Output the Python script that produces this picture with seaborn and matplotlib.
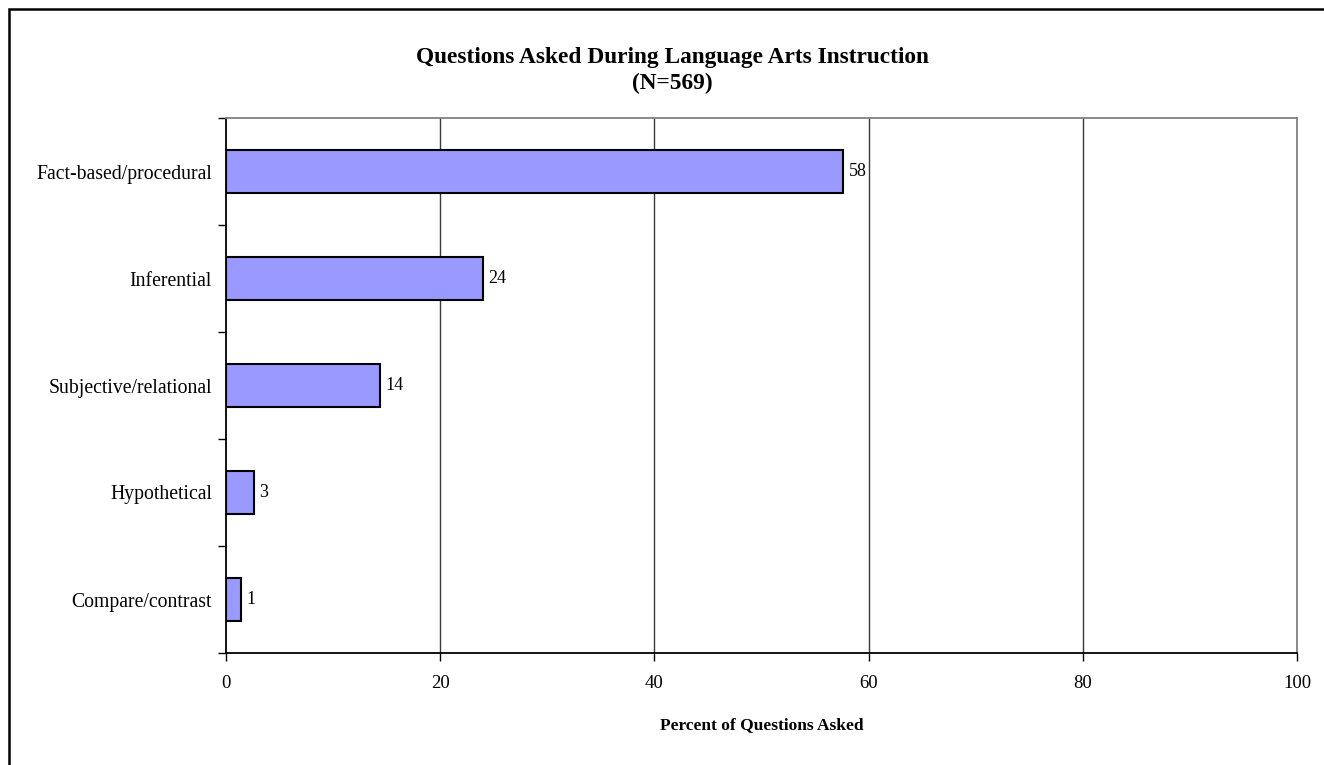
import matplotlib
matplotlib.use("Agg")
import matplotlib.pyplot as plt
from matplotlib.patches import Rectangle
import numpy as np
import pandas as pd
import seaborn as sns

# Question types and the share of questions asked (percent)
categories = ["Fact-based/procedural", "Inferential", "Subjective/relational",
              "Hypothetical", "Compare/contrast"]
percents = [57.6, 24.0, 14.4, 2.6, 1.4]
x_ticks = [0, 20, 40, 60, 80, 100]

title_text = "Questions Asked During Language Arts Instruction\n(N=569)"
x_label = "Percent of Questions Asked"

sns.set_style("white")
plt.rcParams["font.family"] = ["Liberation Serif", "DejaVu Serif"]
plt.rcParams["text.color"] = "black"
plt.rcParams["axes.labelcolor"] = "black"
plt.rcParams["xtick.color"] = "black"
plt.rcParams["ytick.color"] = "black"

df = pd.DataFrame({"category": categories, "percent": percents})

fig = plt.figure(figsize=(13.24, 7.65), dpi=100)
ax = fig.add_axes([226 / 1324, 1 - 653 / 765, (1297 - 226) / 1324, (653 - 118) / 765])

sns.barplot(data=df, x="percent", y="category", orient="h", color="#9999FF",
            saturation=1, edgecolor="black", linewidth=1.5, width=0.4, ax=ax,
            zorder=3)

# value labels, rounded to whole percent
for cont in ax.containers:
    ax.bar_label(cont, fmt="%.0f", padding=4, fontsize=13, color="black")

ax.set_xlim(0, 100)
ax.set_ylim(len(categories) - 0.5, -0.5)
ax.set_xticks(x_ticks)
ax.set_xticklabels([str(t) for t in x_ticks], fontsize=13.5)

# boundary ticks between categories, labels at category centres
ax.set_yticks(np.arange(-0.5, len(categories), 1))
ax.set_yticklabels([])
ax.set_yticks(np.arange(len(categories)), minor=True)
ax.set_yticklabels(categories, minor=True, fontsize=14.2)
ax.tick_params(axis="y", which="minor", length=0, pad=10)
ax.tick_params(axis="y", which="major", length=6, width=1, color="black", direction="out", left=True)
ax.tick_params(axis="x", length=6, width=1, color="black", direction="out", bottom=True, pad=10)

ax.set_ylabel("")
ax.set_xlabel(x_label, fontsize=12.5, fontweight="bold", labelpad=18)

for xv in x_ticks[1:-1]:
    ax.axvline(xv, color="#3a3a3a", linewidth=1, zorder=1)

for side in ["left", "bottom"]:
    ax.spines[side].set_color("black")
    ax.spines[side].set_linewidth(1.3)
for side in ["top", "right"]:
    ax.spines[side].set_color("#808080")
    ax.spines[side].set_linewidth(1.3)
    ax.spines[side].set_visible(True)

fig.text(672 / 1324, 1 - 71 / 765, title_text, ha="center", va="center",
         fontsize=16.8, fontweight="bold", linespacing=1.3)

# outer chart frame (left and top edges visible)
fig.add_artist(Rectangle((9 / 1324, -0.1), 1.2, 1.1 - 9 / 765,
                         transform=fig.transFigure, fill=False,
                         edgecolor="black", linewidth=1.8))

fig.savefig("out.png", dpi=100, facecolor="white")
